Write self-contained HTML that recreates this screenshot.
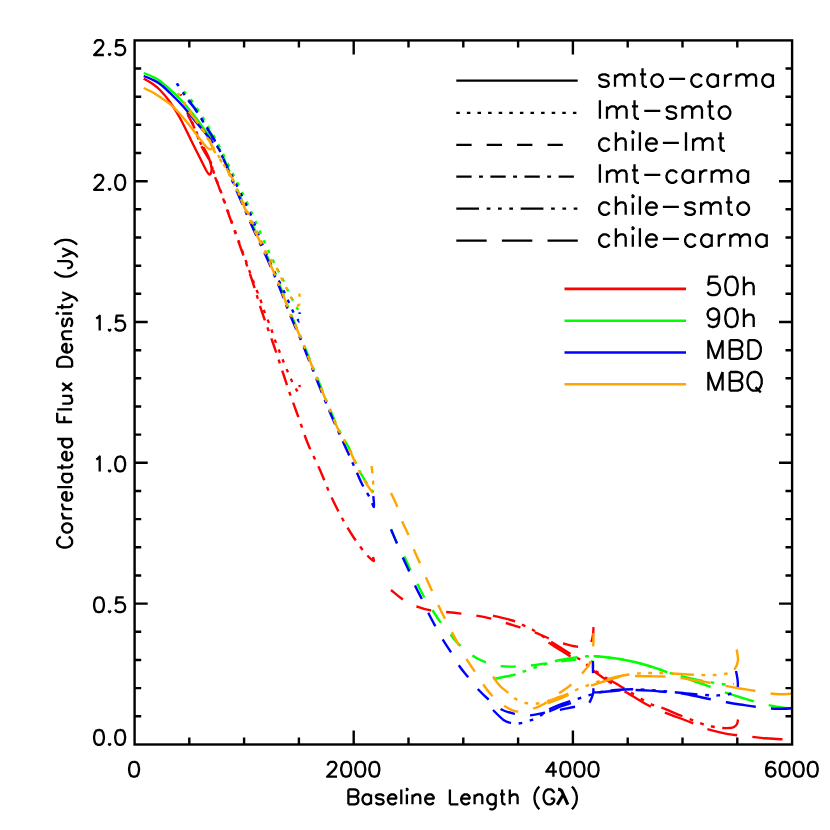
<!DOCTYPE html>
<html lang="en"><head><meta charset="utf-8"><title>Correlated Flux Density vs Baseline Length</title>
<style>html,body{margin:0;padding:0;background:#fff}body{width:830px;height:830px;overflow:hidden;font-family:"Liberation Sans",sans-serif}svg{display:block}text{font-family:"Liberation Sans",sans-serif}.sr{fill:none;stroke:none}</style>
</head><body>
<svg width="830" height="830" viewBox="0 0 830 830">
<rect width="830" height="830" fill="#fff"/>
<defs><clipPath id="pc"><rect x="134.6" y="40.4" width="657.5" height="704.1"/></clipPath></defs>
<g fill="none" stroke-width="2.4" stroke-linecap="butt" stroke-linejoin="round" clip-path="url(#pc)">
<path d="M143.7 78.6 C145.1 79.4 149.3 81.6 152.0 83.5 C154.7 85.4 157.0 86.9 160.0 90.0 C163.0 93.1 166.7 97.3 170.0 102.0 C173.3 106.7 176.7 112.0 180.0 118.0 C183.3 124.0 186.7 131.3 190.0 138.0 C193.3 144.7 197.3 152.7 200.0 158.0 C202.7 163.3 204.4 167.2 206.0 170.0 C207.6 172.8 208.6 174.4 209.5 174.6 C210.4 174.8 211.2 172.6 211.5 171.0 C211.8 169.4 211.5 167.3 211.0 165.0 C210.5 162.7 209.5 159.5 208.5 157.0 C207.5 154.5 205.9 151.7 205.0 150.0 C204.1 148.3 203.3 147.5 203.0 147.0" stroke="#ff0000"/>
<path d="M180.6 94.3 C181.2 95.8 183.2 100.0 184.5 103.5 C185.8 107.0 186.6 111.1 188.3 115.0 C190.0 118.9 192.2 121.8 194.5 127.0 C196.8 132.2 199.1 140.0 201.8 145.9 C204.5 151.8 208.7 157.6 210.8 162.3 C212.9 167.0 212.7 169.4 214.3 174.0 C215.9 178.6 217.6 182.7 220.3 190.0 C223.0 197.3 226.9 208.7 230.3 218.0 C233.7 227.3 237.1 236.7 240.5 246.0 C243.9 255.3 247.8 266.5 250.5 274.0 C253.2 281.5 255.2 286.4 257.0 291.0 C258.8 295.6 259.8 297.9 261.0 301.3 C262.2 304.7 263.1 308.1 264.3 311.4 C265.5 314.7 266.9 317.8 268.2 321.1 C269.5 324.4 270.8 327.8 272.0 331.2 C273.2 334.6 274.2 338.0 275.4 341.3 C276.6 344.6 278.0 347.9 279.3 351.1 C280.6 354.3 281.8 357.4 283.1 360.7 C284.4 364.0 285.9 367.4 287.3 370.7 C288.7 374.0 290.0 377.1 291.5 380.3 C293.0 383.5 295.2 387.6 296.4 389.6 C297.6 391.6 298.0 392.2 298.6 392.3 C299.2 392.4 299.7 391.2 299.8 390.0 C299.9 388.8 299.6 385.7 299.5 384.8" stroke="#ff0000" stroke-dasharray="3.5 7.1" stroke-dashoffset="1.9"/>
<path d="M187.8 115.0 C188.8 117.0 191.8 121.8 194.0 127.0 C196.2 132.2 198.6 140.0 201.3 145.9 C204.1 151.8 208.4 157.6 210.5 162.3 C212.6 167.0 212.4 169.4 214.0 174.0 C215.6 178.6 217.3 182.7 220.0 190.0 C222.7 197.3 226.7 208.7 230.0 218.0 C233.3 227.3 236.3 235.7 240.0 246.0 C243.7 256.3 248.3 269.0 252.0 280.0 C255.7 291.0 258.3 301.0 262.0 312.0 C265.7 323.0 270.3 335.3 274.0 346.0 C277.7 356.7 281.3 368.0 284.0 376.0 C286.7 384.0 287.7 387.3 290.0 394.0 C292.3 400.7 295.0 407.7 298.0 416.0 C301.0 424.3 304.3 435.0 308.0 444.0 C311.7 453.0 316.3 461.7 320.0 470.0 C323.7 478.3 326.3 486.0 330.0 494.0 C333.7 502.0 338.0 510.7 342.0 518.0 C346.0 525.3 350.0 532.0 354.0 538.0 C358.0 544.0 362.8 550.2 366.0 554.0 C369.2 557.8 372.3 560.5 373.5 561.0 C374.7 561.5 373.1 557.7 373.0 557.0" stroke="#ff0000" stroke-dasharray="15.3 7.4 3.9 7.5"/>
<path d="M391.0 590.0 C393.0 591.6 398.8 596.9 403.0 599.6 C407.2 602.3 411.7 604.6 416.4 606.4 C421.1 608.2 426.0 609.5 431.0 610.4 C436.0 611.3 441.4 611.5 446.4 612.0 C451.4 612.5 456.1 613.0 461.0 613.6 C465.9 614.2 471.0 614.8 476.0 615.6 C481.0 616.4 486.0 617.4 491.0 618.6 C496.0 619.8 501.2 621.5 506.0 623.0 C510.8 624.5 515.3 625.9 520.0 627.4 C524.7 628.9 529.3 630.2 534.0 632.0 C538.7 633.8 543.3 636.2 548.0 638.0 C552.7 639.8 557.2 641.6 562.0 643.0 C566.8 644.4 572.8 646.1 577.0 646.6 C581.2 647.1 584.7 646.7 587.0 646.0 C589.3 645.3 590.0 644.1 591.0 642.3 C592.0 640.5 592.6 637.5 593.0 635.0 C593.4 632.5 593.4 628.5 593.5 627.2" stroke="#ff0000" stroke-dasharray="15.3 15.1"/>
<path d="M493.0 615.6 C496.5 616.5 508.8 619.3 514.0 621.0 C519.2 622.7 520.8 624.1 524.0 625.6 C527.2 627.1 528.7 627.4 533.0 630.0 C537.3 632.6 543.5 636.8 550.0 641.0 C556.5 645.2 567.0 651.9 572.0 655.0 C577.0 658.1 576.3 657.0 580.0 659.5 C583.7 662.0 589.3 666.8 594.0 670.0 C598.7 673.2 604.3 676.8 608.0 679.0 C611.7 681.2 612.3 681.3 616.0 683.5 C619.7 685.7 624.4 688.7 630.0 692.0 C635.6 695.3 644.2 700.9 649.5 703.5 C654.8 706.1 656.3 705.6 661.7 707.7 C667.1 709.8 675.6 713.5 682.0 716.0 C688.4 718.5 695.0 721.2 700.0 723.0 C705.0 724.8 708.3 725.7 712.0 726.5 C715.7 727.3 719.4 727.8 722.4 728.0 C725.4 728.2 728.1 728.2 730.0 728.0 C731.9 727.8 732.8 727.7 734.0 727.0 C735.2 726.3 736.3 725.2 737.0 724.0 C737.7 722.8 737.8 720.2 738.0 719.5" stroke="#ff0000" stroke-dasharray="22.7 7.7 3.7 7.6 3.7 7.6 3.7 7.7"/>
<path d="M548.5 642.6 C550.2 643.7 555.3 647.0 559.0 649.3 C562.7 651.6 568.6 655.2 570.5 656.4" stroke="#ff0000"/>
<path d="M593.5 671.0 C595.9 672.7 603.6 678.1 608.0 681.0 C612.4 683.9 615.5 685.8 620.0 688.5 C624.5 691.2 630.1 694.6 635.0 697.5 C639.9 700.4 644.8 703.6 649.5 706.0 C654.2 708.4 658.6 710.1 663.4 712.0 C668.1 713.9 673.2 715.7 678.0 717.5 C682.8 719.3 687.3 721.0 692.0 722.9 C696.7 724.8 701.7 727.2 706.4 728.8 C711.1 730.4 715.2 731.3 720.0 732.3 C724.8 733.3 729.8 734.3 735.0 735.0 C740.2 735.7 746.0 736.2 751.0 736.7 C756.0 737.2 760.1 737.8 765.0 738.2 C769.9 738.6 775.6 739.0 780.6 739.2 C785.6 739.4 792.6 739.5 795.0 739.5" stroke="#ff0000" stroke-dasharray="30.4 15.2" stroke-dashoffset="8.4"/>
<path d="M143.7 73.0 C145.1 73.6 149.3 75.2 152.0 76.5 C154.7 77.8 157.0 78.8 160.0 81.0 C163.0 83.2 166.7 86.5 170.0 89.5 C173.3 92.5 177.0 95.9 180.0 99.0 C183.0 102.1 185.3 104.8 188.0 108.0 C190.7 111.2 193.3 114.5 196.0 118.0 C198.7 121.5 201.7 125.8 204.0 129.0 C206.3 132.2 208.7 135.2 210.0 137.0 C211.3 138.8 211.7 139.5 212.0 140.0" stroke="#00ff00"/>
<path d="M177.5 84.0 C178.7 85.3 182.1 89.2 184.5 92.0 C186.9 94.8 189.4 97.5 192.0 101.0 C194.6 104.5 197.3 108.8 200.0 113.0 C202.7 117.2 205.3 121.5 208.0 126.0 C210.7 130.5 213.3 135.0 216.0 140.0 C218.7 145.0 221.2 150.3 224.0 156.0 C226.8 161.7 230.0 168.0 233.0 174.0 C236.0 180.0 238.9 185.6 242.0 192.0 C245.1 198.4 248.6 205.8 251.6 212.4 C254.6 219.0 257.3 225.3 260.0 231.6 C262.7 237.9 265.2 243.8 268.0 250.0 C270.8 256.1 274.5 263.5 277.0 268.5 C279.5 273.5 281.4 276.6 283.1 280.1 C284.9 283.7 286.0 286.6 287.5 289.8 C289.0 293.0 290.7 296.3 292.3 299.4 C293.9 302.4 296.0 306.3 297.1 308.1 C298.2 309.9 298.3 310.2 298.7 310.3 C299.1 310.4 299.6 310.1 299.7 309.0 C299.8 307.9 299.5 304.6 299.5 303.7" stroke="#00ff00" stroke-dasharray="3.5 7.1" stroke-dashoffset="1.0"/>
<path d="M188.3 99.6 C189.8 101.4 193.9 106.2 197.0 110.7 C200.1 115.2 203.8 122.0 206.6 126.6 C209.4 131.2 211.2 133.4 213.9 138.2 C216.6 143.0 219.7 149.4 222.5 155.5 C225.3 161.6 228.1 168.2 231.0 175.0 C233.9 181.8 236.2 187.2 240.0 196.0 C243.8 204.8 249.3 217.7 254.0 228.0 C258.7 238.3 263.7 248.3 268.0 258.0 C272.3 267.7 276.3 277.0 280.0 286.0 C283.7 295.0 286.3 303.0 290.0 312.0 C293.7 321.0 298.0 330.3 302.0 340.0 C306.0 349.7 309.8 359.7 314.0 370.0 C318.2 380.3 323.0 392.3 327.0 402.0 C331.0 411.7 334.2 420.0 338.0 428.0 C341.8 436.0 346.3 442.7 350.0 450.0 C353.7 457.3 356.7 465.7 360.0 472.0 C363.3 478.3 367.8 484.8 370.0 488.0 C372.2 491.2 372.6 492.2 373.0 491.5 C373.4 490.8 372.4 485.2 372.3 484.0" stroke="#00ff00" stroke-dasharray="15.3 7.4 3.9 7.5"/>
<path d="M391.0 529.0 C392.0 531.3 394.8 538.5 397.0 543.0 C399.2 547.5 401.8 551.7 404.0 556.0 C406.2 560.3 407.8 564.5 410.0 569.0 C412.2 573.5 414.7 578.5 417.0 583.0 C419.3 587.5 421.1 591.6 423.6 596.0 C426.1 600.4 429.3 605.1 432.0 609.4 C434.7 613.7 437.0 617.5 440.0 621.6 C443.0 625.7 446.8 630.2 450.0 634.0 C453.2 637.8 455.4 640.9 459.0 644.4 C462.6 647.9 467.4 652.1 471.6 655.0 C475.8 657.9 479.3 659.8 484.0 661.6 C488.7 663.4 494.7 665.2 499.6 666.0 C504.5 666.8 508.5 666.7 513.6 666.6 C518.7 666.5 524.9 666.1 530.0 665.6 C535.1 665.1 539.0 664.3 544.0 663.6 C549.0 662.9 555.0 662.1 560.0 661.5 C565.0 660.9 569.7 660.3 574.0 659.8 C578.3 659.3 582.9 658.1 586.0 658.5 C589.1 658.9 591.4 660.4 592.5 662.0 C593.6 663.6 592.8 667.0 592.9 668.0" stroke="#00ff00" stroke-dasharray="15.3 15.1"/>
<path d="M493.3 679.0 C496.9 678.3 509.9 676.0 515.0 674.7 C520.1 673.4 520.7 672.6 524.0 671.4 C527.3 670.2 531.3 668.7 534.8 667.5 C538.3 666.3 540.8 665.5 545.0 664.2 C549.2 663.0 554.5 661.2 560.0 660.0 C565.5 658.8 573.5 657.6 578.0 657.0 C582.5 656.4 584.3 656.4 587.0 656.2 C589.7 656.1 590.8 655.9 594.0 656.1 C597.2 656.3 602.0 656.8 606.0 657.3 C610.0 657.8 614.0 658.2 618.0 658.8 C622.0 659.4 626.0 660.1 630.0 661.0 C634.0 661.9 638.2 662.9 642.3 664.0 C646.3 665.1 650.3 666.3 654.3 667.6 C658.3 668.9 661.8 670.3 666.4 671.8 C671.0 673.3 676.4 675.0 682.0 676.5 C687.6 678.0 694.5 679.4 700.0 680.5 C705.5 681.6 710.5 682.3 715.0 683.0 C719.5 683.7 723.8 684.3 727.0 684.5 C730.2 684.7 732.8 684.1 734.0 684.0" stroke="#00ff00" stroke-dasharray="22.7 7.7 3.7 7.6 3.7 7.6 3.7 7.7"/>
<path d="M593.5 656.1 C595.6 656.3 601.9 656.8 606.0 657.3 C610.1 657.8 614.0 658.2 618.0 658.8 C622.0 659.4 626.0 660.1 630.0 661.0 C634.0 661.9 638.2 662.9 642.3 664.0 C646.3 665.1 650.3 666.3 654.3 667.6 C658.3 668.9 661.8 670.2 666.4 671.8 C671.0 673.4 677.2 675.4 682.0 677.0 C686.8 678.6 690.4 679.9 695.0 681.5 C699.6 683.1 704.9 684.9 709.7 686.6 C714.5 688.4 719.3 690.4 724.0 692.0 C728.7 693.6 733.2 695.0 738.0 696.5 C742.8 698.0 747.7 699.6 752.7 701.0 C757.7 702.4 763.5 704.0 768.0 705.0 C772.5 706.0 776.1 706.7 780.0 707.3 C783.9 707.9 788.8 708.3 791.5 708.5 C794.2 708.7 795.2 708.7 796.0 708.7" stroke="#00ff00" stroke-dasharray="30.4 15.2"/>
<path d="M143.7 76.0 C145.1 76.6 149.3 78.2 152.0 79.5 C154.7 80.8 157.0 81.8 160.0 84.0 C163.0 86.2 166.7 89.8 170.0 93.0 C173.3 96.2 177.0 99.8 180.0 103.0 C183.0 106.2 185.3 108.8 188.0 112.0 C190.7 115.2 193.3 118.8 196.0 122.0 C198.7 125.2 201.7 128.7 204.0 131.5 C206.3 134.3 208.5 137.1 210.0 139.0 C211.5 140.9 212.5 142.3 213.0 143.0" stroke="#0000ff"/>
<path d="M176.9 83.4 C177.0 83.6 176.4 82.8 177.5 84.5 C178.6 86.2 181.2 90.4 183.5 93.5 C185.8 96.6 188.4 99.4 191.0 103.0 C193.6 106.6 196.3 110.8 199.0 115.0 C201.7 119.2 204.3 123.5 207.0 128.0 C209.7 132.5 212.3 137.0 215.0 142.0 C217.7 147.0 220.2 152.3 223.0 158.0 C225.8 163.7 229.0 170.0 232.0 176.0 C235.0 182.0 237.9 187.6 241.0 194.0 C244.1 200.4 247.7 207.6 250.6 214.4 C253.5 221.2 255.9 228.2 258.5 234.6 C261.1 241.0 263.3 246.8 266.0 253.0 C268.7 259.2 272.2 267.2 274.5 272.0 C276.8 276.8 277.9 278.7 279.5 282.0 C281.1 285.3 282.6 288.5 284.1 291.7 C285.6 294.9 286.9 298.1 288.4 301.3 C289.8 304.5 291.2 307.9 292.8 311.0 C294.4 314.1 297.0 318.4 298.1 320.1 C299.2 321.8 298.9 321.5 299.2 321.3 C299.5 321.1 299.8 320.5 299.8 319.0 C299.9 317.5 299.6 313.5 299.5 312.4" stroke="#0000ff" stroke-dasharray="3.5 7.1" stroke-dashoffset="10.4"/>
<path d="M188.3 100.6 C189.8 102.4 193.9 107.2 197.0 111.7 C200.1 116.2 203.8 123.0 206.6 127.6 C209.4 132.2 211.2 134.4 213.9 139.2 C216.6 144.0 219.7 150.3 222.5 156.5 C225.3 162.7 227.7 169.7 230.5 176.5 C233.3 183.3 235.7 188.7 239.5 197.5 C243.3 206.3 248.8 219.2 253.5 229.5 C258.2 239.8 263.2 249.8 267.5 259.5 C271.8 269.2 275.8 278.5 279.5 287.5 C283.2 296.5 285.8 304.5 289.5 313.5 C293.2 322.5 297.5 331.8 301.5 341.5 C305.5 351.2 309.4 361.2 313.5 371.5 C317.6 381.8 322.4 394.2 326.0 403.0 C329.6 411.8 332.0 417.2 335.0 424.0 C338.0 430.8 340.8 437.0 344.0 444.0 C347.2 451.0 351.0 459.3 354.0 466.0 C357.0 472.7 359.3 478.7 362.0 484.0 C364.7 489.3 368.0 494.2 370.0 498.0 C372.0 501.8 373.4 507.3 374.0 507.0 C374.6 506.7 373.4 497.8 373.3 496.0" stroke="#0000ff" stroke-dasharray="15.3 7.4 3.9 7.5"/>
<path d="M391.0 529.5 C392.0 531.8 395.0 538.8 397.0 543.5 C399.0 548.2 401.0 553.4 403.0 558.0 C405.0 562.6 407.0 566.4 409.0 571.0 C411.0 575.6 412.9 581.0 415.0 585.6 C417.1 590.2 419.4 594.0 421.6 598.6 C423.8 603.2 426.2 608.5 428.4 613.0 C430.6 617.5 432.6 621.2 435.0 625.6 C437.4 630.0 440.0 635.1 442.6 639.4 C445.2 643.7 447.9 647.3 450.6 651.6 C453.3 655.9 455.8 660.8 458.6 665.0 C461.4 669.2 464.5 672.7 467.6 676.6 C470.7 680.5 474.0 684.9 477.4 688.6 C480.8 692.3 484.2 695.6 488.0 699.0 C491.8 702.4 495.7 706.3 500.0 708.7 C504.3 711.1 508.8 712.5 513.7 713.6 C518.6 714.7 524.5 715.5 529.4 715.4 C534.3 715.3 538.4 713.9 543.3 713.0 C548.2 712.1 553.9 711.0 559.0 710.0 C564.1 709.0 569.9 707.8 573.7 707.0 C577.5 706.2 579.5 705.9 582.0 705.3 C584.5 704.6 587.1 704.3 588.7 703.1 C590.3 701.9 590.8 699.8 591.6 698.0 C592.4 696.2 593.0 694.6 593.3 692.3 C593.6 690.0 593.2 686.8 593.2 684.0 C593.2 681.2 593.2 679.2 593.1 675.4 C593.0 671.6 592.9 663.4 592.9 661.0" stroke="#0000ff" stroke-dasharray="15.3 15.1"/>
<path d="M493.0 710.0 C494.8 711.7 500.6 717.9 503.5 720.0 C506.4 722.1 508.0 722.4 510.7 722.9 C513.4 723.4 516.4 723.8 519.8 723.3 C523.2 722.8 527.6 721.5 531.2 720.1 C534.8 718.7 538.5 716.8 541.4 715.0 C544.3 713.2 545.6 711.4 548.7 709.6 C551.8 707.9 556.4 705.9 560.0 704.5 C563.6 703.1 566.7 702.4 570.4 701.2 C574.1 700.0 578.2 698.7 582.0 697.5 C585.8 696.3 589.3 695.0 593.0 694.0 C596.7 693.0 600.2 692.2 604.0 691.5 C607.8 690.8 611.3 690.4 616.0 690.0 C620.7 689.6 626.3 689.3 632.0 689.3 C637.7 689.3 643.7 689.6 650.0 690.0 C656.3 690.4 663.3 691.2 670.0 691.8 C676.7 692.4 684.0 693.3 690.0 693.8 C696.0 694.3 701.3 694.7 706.0 695.0 C710.7 695.3 714.2 695.5 718.0 695.4 C721.8 695.3 726.2 694.9 729.0 694.2 C731.8 693.6 733.1 692.6 734.5 691.5 C735.9 690.4 737.1 689.4 737.6 687.5 C738.1 685.6 737.9 682.8 737.6 680.0 C737.3 677.2 736.3 672.5 736.0 671.0" stroke="#0000ff" stroke-dasharray="22.7 7.7 3.7 7.6 3.7 7.6 3.7 7.7"/>
<path d="M549.3 711.6 C551.1 710.8 556.4 708.0 560.0 706.6 C563.6 705.2 569.2 703.8 571.0 703.2" stroke="#0000ff"/>
<path d="M593.5 692.4 C594.6 692.4 595.9 692.5 600.0 692.2 C604.1 691.9 612.3 690.9 618.0 690.5 C623.7 690.1 628.7 690.0 634.0 690.0 C639.3 690.0 644.7 690.3 650.0 690.6 C655.3 690.9 661.8 691.7 666.0 692.0 C670.2 692.3 671.5 691.9 675.5 692.4 C679.5 692.9 685.9 694.2 690.0 695.0 C694.1 695.8 696.6 696.3 700.0 697.0 C703.4 697.7 706.2 698.4 710.6 699.3 C715.0 700.2 721.7 701.4 726.6 702.3 C731.5 703.2 735.2 703.8 740.0 704.5 C744.8 705.2 750.1 706.1 755.3 706.8 C760.5 707.5 766.8 708.2 771.3 708.5 C775.8 708.8 778.6 708.8 782.0 708.7 C785.4 708.7 789.2 708.4 791.5 708.2 C793.8 708.1 795.2 707.9 796.0 707.8" stroke="#0000ff" stroke-dasharray="30.4 15.2" stroke-dashoffset="3.4"/>
<path d="M143.7 88.0 C145.1 88.7 149.3 90.5 152.0 92.0 C154.7 93.5 157.0 95.0 160.0 97.0 C163.0 99.0 166.7 101.2 170.0 104.0 C173.3 106.8 176.7 110.3 180.0 114.0 C183.3 117.7 186.7 121.8 190.0 126.0 C193.3 130.2 197.3 135.6 200.0 139.0 C202.7 142.4 204.4 144.8 206.0 146.5 C207.6 148.2 208.5 149.1 209.5 149.3 C210.5 149.5 211.9 148.6 212.2 147.6 C212.4 146.6 211.5 144.9 211.0 143.5 C210.5 142.1 209.3 139.8 209.0 139.0" stroke="#ffa500"/>
<path d="M178.0 93.0 C179.1 94.8 182.2 100.0 184.5 103.5 C186.8 107.0 189.4 110.2 192.0 114.0 C194.6 117.8 197.3 121.8 200.0 126.0 C202.7 130.2 205.3 134.7 208.0 139.0 C210.7 143.3 213.3 147.7 216.0 152.0 C218.7 156.3 221.3 160.3 224.0 165.0 C226.7 169.7 229.2 174.5 232.0 180.0 C234.8 185.5 238.0 191.8 241.0 198.0 C244.0 204.2 247.0 210.7 250.0 217.0 C253.0 223.3 256.2 229.8 259.0 236.0 C261.8 242.2 264.1 248.7 267.0 254.0 C269.9 259.3 274.1 263.9 276.5 268.0 C278.9 272.1 280.0 275.3 281.7 278.7 C283.4 282.1 284.9 285.1 286.5 288.3 C288.1 291.5 289.9 295.5 291.3 298.0 C292.8 300.5 294.0 302.3 295.2 303.5 C296.4 304.7 297.8 305.8 298.6 305.4 C299.4 305.0 299.7 302.7 299.8 301.0 C299.9 299.3 299.6 296.4 299.5 295.1 C299.4 293.8 299.4 293.6 299.4 293.3" stroke="#ffa500" stroke-dasharray="3.5 7.1" stroke-dashoffset="0.2"/>
<path d="M188.8 111.7 C190.2 113.4 193.9 117.5 197.0 121.8 C200.1 126.0 204.7 132.3 207.6 137.2 C210.5 142.1 211.8 146.9 214.3 151.2 C216.8 155.5 219.7 158.9 222.5 163.0 C225.3 167.1 228.1 170.3 231.0 176.0 C233.9 181.7 236.2 188.2 240.0 197.0 C243.8 205.8 249.3 218.7 254.0 229.0 C258.7 239.3 263.7 249.3 268.0 259.0 C272.3 268.7 276.3 278.0 280.0 287.0 C283.7 296.0 286.3 304.0 290.0 313.0 C293.7 322.0 298.0 331.3 302.0 341.0 C306.0 350.7 309.8 360.7 314.0 371.0 C318.2 381.3 323.0 393.3 327.0 403.0 C331.0 412.7 334.2 421.0 338.0 429.0 C341.8 437.0 346.3 443.7 350.0 451.0 C353.7 458.3 356.7 466.7 360.0 473.0 C363.3 479.3 367.8 485.9 370.0 489.0 C372.2 492.1 372.5 493.0 373.0 491.5 C373.5 490.0 373.2 484.2 373.0 480.0 C372.8 475.8 371.8 468.3 371.6 466.0" stroke="#ffa500" stroke-dasharray="15.3 7.4 3.9 7.5"/>
<path d="M391.0 493.0 C392.0 495.2 395.2 501.3 397.0 506.0 C398.8 510.7 400.2 516.3 402.0 521.0 C403.8 525.7 406.1 529.3 408.0 534.0 C409.9 538.7 411.7 544.3 413.6 549.0 C415.5 553.7 417.6 557.8 419.6 562.4 C421.6 567.0 423.6 572.0 425.6 576.6 C427.6 581.2 429.5 585.4 431.6 590.0 C433.7 594.6 435.9 599.8 438.0 604.4 C440.1 609.0 442.1 613.1 444.4 617.6 C446.7 622.1 449.3 627.1 451.6 631.6 C453.9 636.1 456.0 640.0 458.4 644.4 C460.8 648.8 463.4 653.7 466.0 658.0 C468.6 662.3 471.2 666.2 474.0 670.4 C476.8 674.6 479.7 679.3 482.6 683.4 C485.5 687.5 488.0 691.4 491.4 695.0 C494.8 698.6 498.9 702.3 503.0 705.0 C507.1 707.7 511.2 710.7 516.0 711.4 C520.8 712.1 527.3 710.2 532.0 709.0 C536.7 707.8 539.7 706.5 544.0 704.0 C548.3 701.5 553.7 697.1 558.0 694.0 C562.3 690.9 566.2 688.8 570.0 685.6 C573.8 682.4 577.7 678.6 581.0 674.8 C584.3 671.0 587.9 667.3 589.9 662.8 C591.9 658.3 592.4 653.0 593.0 648.0 C593.6 643.0 593.5 635.5 593.6 633.0" stroke="#ffa500" stroke-dasharray="15.3 15.1"/>
<path d="M493.0 676.5 C494.2 678.1 497.4 683.3 500.0 686.0 C502.6 688.7 505.7 690.7 508.3 692.8 C510.9 694.9 512.6 697.1 515.5 698.8 C518.4 700.5 522.2 702.2 525.8 703.0 C529.4 703.8 533.5 703.8 537.2 703.5 C540.9 703.2 544.5 702.0 548.0 701.0 C551.5 700.0 554.3 698.8 558.0 697.5 C561.7 696.2 566.8 694.3 570.0 693.0 C573.2 691.7 574.2 690.7 577.0 689.5 C579.8 688.3 583.2 687.1 587.0 685.7 C590.8 684.3 595.2 682.5 600.0 681.0 C604.8 679.5 611.2 678.1 616.0 677.0 C620.8 675.9 625.0 675.1 629.0 674.5 C633.0 673.9 636.5 673.5 640.0 673.3 C643.5 673.0 646.3 673.0 650.0 673.0 C653.7 673.0 657.0 672.8 662.0 673.0 C667.0 673.2 673.7 673.7 680.0 674.0 C686.3 674.3 694.2 674.8 700.0 675.0 C705.8 675.2 710.5 675.2 715.0 675.0 C719.5 674.8 723.8 674.4 727.0 673.5 C730.2 672.6 732.4 671.9 734.2 669.7 C736.0 667.5 737.6 663.9 738.0 660.5 C738.4 657.1 736.9 651.3 736.7 649.5" stroke="#ffa500" stroke-dasharray="22.7 7.7 3.7 7.6 3.7 7.6 3.7 7.7"/>
<path d="M547.5 703.4 C549.2 702.7 554.5 700.8 558.0 699.4 C561.5 698.0 566.8 695.6 568.5 694.8" stroke="#ffa500"/>
<path d="M591.0 685.7 C593.3 684.9 600.7 682.4 605.0 681.0 C609.3 679.6 613.0 678.4 617.0 677.5 C621.0 676.6 626.0 675.6 629.0 675.4 C632.0 675.1 631.5 675.9 635.0 676.0 C638.5 676.1 645.0 676.2 650.0 676.3 C655.0 676.4 660.2 676.2 665.2 676.5 C670.2 676.8 675.0 677.4 680.0 678.0 C685.0 678.6 690.0 679.4 695.0 680.2 C700.0 681.0 704.7 681.8 709.7 682.7 C714.7 683.6 720.0 684.8 725.0 685.8 C730.0 686.8 735.1 687.7 740.0 688.5 C744.9 689.3 749.5 690.0 754.4 690.8 C759.3 691.6 765.3 692.8 769.6 693.4 C773.9 694.0 776.4 694.2 780.0 694.3 C783.6 694.3 788.8 693.9 791.5 693.7 C794.2 693.5 795.2 693.3 796.0 693.2" stroke="#ffa500" stroke-dasharray="30.4 15.2"/>
</g>
<g stroke="#000" stroke-width="2.4" fill="none" stroke-linecap="butt">
<rect x="134.6" y="40.4" width="657.5" height="704.1"/>
<path d="M189.3 744.5V737.4M189.3 40.4V47.4M244.1 744.5V737.4M244.1 40.4V47.4M298.9 744.5V737.4M298.9 40.4V47.4M353.7 744.5V730.4M353.7 40.4V54.5M408.5 744.5V737.4M408.5 40.4V47.4M463.3 744.5V737.4M463.3 40.4V47.4M518.1 744.5V737.4M518.1 40.4V47.4M572.9 744.5V730.4M572.9 40.4V54.5M627.7 744.5V737.4M627.7 40.4V47.4M682.5 744.5V737.4M682.5 40.4V47.4M737.3 744.5V737.4M737.3 40.4V47.4M134.6 716.3H141.2M792.1 716.3H785.5M134.6 688.1H141.2M792.1 688.1H785.5M134.6 660.0H141.2M792.1 660.0H785.5M134.6 631.8H141.2M792.1 631.8H785.5M134.6 603.6H147.7M792.1 603.6H779.0M134.6 575.5H141.2M792.1 575.5H785.5M134.6 547.3H141.2M792.1 547.3H785.5M134.6 519.1H141.2M792.1 519.1H785.5M134.6 491.0H141.2M792.1 491.0H785.5M134.6 462.8H147.7M792.1 462.8H779.0M134.6 434.6H141.2M792.1 434.6H785.5M134.6 406.5H141.2M792.1 406.5H785.5M134.6 378.3H141.2M792.1 378.3H785.5M134.6 350.2H141.2M792.1 350.2H785.5M134.6 322.0H147.7M792.1 322.0H779.0M134.6 293.8H141.2M792.1 293.8H785.5M134.6 265.7H141.2M792.1 265.7H785.5M134.6 237.5H141.2M792.1 237.5H785.5M134.6 209.3H141.2M792.1 209.3H785.5M134.6 181.2H147.7M792.1 181.2H779.0M134.6 153.0H141.2M792.1 153.0H785.5M134.6 124.8H141.2M792.1 124.8H785.5M134.6 96.7H141.2M792.1 96.7H785.5M134.6 68.5H141.2M792.1 68.5H785.5"/>
</g>
<g stroke="#000" stroke-width="2.3" fill="none">
<path d="M456.3 80.7H577.7"/>
<path d="M456.3 112.8H577.7" stroke-dasharray="3.5 7.1"/>
<path d="M456.3 144.8H562.8" stroke-dasharray="15.3 15.1"/>
<path d="M456.3 176.7H574.4" stroke-dasharray="15.3 7.4 3.9 7.5"/>
<path d="M456.3 208.7H577.8" stroke-dasharray="22.7 7.7 3.7 7.6 3.7 7.6 3.7 7.7"/>
<path d="M456.3 240.7H577.8" stroke-dasharray="30.4 15.2"/>
</g>
<g stroke-width="2.6" fill="none">
<path d="M564.5 288.9H686" stroke="#ff0000"/>
<path d="M564.5 320.7H686" stroke="#00ff00"/>
<path d="M564.5 352.5H686" stroke="#0000ff"/>
<path d="M564.5 384.3H686" stroke="#ffa500"/>
</g>
<g fill="none" stroke="#000" stroke-width="2.3" stroke-linecap="butt" stroke-linejoin="round">
<g><text x="127.2" y="55.0" font-size="21.2" text-anchor="end" class="sr">2.5</text><path d="M94.8 43.7L94.8 43.0L95.5 41.5L96.2 40.8L97.6 40.1L100.4 40.1L101.8 40.8L102.5 41.5L103.2 43.0L103.2 44.4L102.5 45.8L101.1 47.9L94.1 55.0L103.9 55.0M109.6 53.6L108.9 54.3L109.6 55.0L110.3 54.3L109.6 53.6M123.7 40.1L116.6 40.1L115.9 46.5L116.6 45.8L118.7 45.1L120.9 45.1L123.0 45.8L124.4 47.2L125.1 49.3L125.1 50.8L124.4 52.9L123.0 54.3L120.9 55.0L118.7 55.0L116.6 54.3L115.9 53.6L115.2 52.2"/></g>
<g><text x="127.2" y="189.8" font-size="21.2" text-anchor="end" class="sr">2.0</text><path d="M94.8 178.4L94.8 177.7L95.5 176.3L96.2 175.6L97.6 174.9L100.4 174.9L101.8 175.6L102.5 176.3L103.2 177.7L103.2 179.2L102.5 180.6L101.1 182.7L94.1 189.8L103.9 189.8M109.6 188.4L108.9 189.1L109.6 189.8L110.3 189.1L109.6 188.4M119.4 174.9L117.3 175.6L115.9 177.7L115.2 181.3L115.2 183.4L115.9 186.9L117.3 189.1L119.4 189.8L120.9 189.8L123.0 189.1L124.4 186.9L125.1 183.4L125.1 181.3L124.4 177.7L123.0 175.6L120.9 174.9L119.4 174.9"/></g>
<g><text x="127.2" y="330.6" font-size="21.2" text-anchor="end" class="sr">1.5</text><path d="M96.2 318.6L97.6 317.8L99.7 315.7L99.7 330.6M109.6 329.2L108.9 329.9L109.6 330.6L110.3 329.9L109.6 329.2M123.7 315.7L116.6 315.7L115.9 322.1L116.6 321.4L118.7 320.7L120.9 320.7L123.0 321.4L124.4 322.8L125.1 324.9L125.1 326.3L124.4 328.5L123.0 329.9L120.9 330.6L118.7 330.6L116.6 329.9L115.9 329.2L115.2 327.8"/></g>
<g><text x="127.2" y="471.4" font-size="21.2" text-anchor="end" class="sr">1.0</text><path d="M96.2 459.4L97.6 458.7L99.7 456.5L99.7 471.4M109.6 470.0L108.9 470.7L109.6 471.4L110.3 470.7L109.6 470.0M119.4 456.5L117.3 457.3L115.9 459.4L115.2 462.9L115.2 465.0L115.9 468.6L117.3 470.7L119.4 471.4L120.9 471.4L123.0 470.7L124.4 468.6L125.1 465.0L125.1 462.9L124.4 459.4L123.0 457.3L120.9 456.5L119.4 456.5"/></g>
<g><text x="127.2" y="612.2" font-size="21.2" text-anchor="end" class="sr">0.5</text><path d="M98.3 597.4L96.2 598.1L94.8 600.2L94.1 603.7L94.1 605.9L94.8 609.4L96.2 611.5L98.3 612.2L99.7 612.2L101.8 611.5L103.2 609.4L103.9 605.9L103.9 603.7L103.2 600.2L101.8 598.1L99.7 597.4L98.3 597.4M109.6 610.8L108.9 611.5L109.6 612.2L110.3 611.5L109.6 610.8M123.7 597.4L116.6 597.4L115.9 603.7L116.6 603.0L118.7 602.3L120.9 602.3L123.0 603.0L124.4 604.4L125.1 606.6L125.1 608.0L124.4 610.1L123.0 611.5L120.9 612.2L118.7 612.2L116.6 611.5L115.9 610.8L115.2 609.4"/></g>
<g><text x="127.2" y="744.9" font-size="21.2" text-anchor="end" class="sr">0.0</text><path d="M98.3 730.0L96.2 730.7L94.8 732.9L94.1 736.4L94.1 738.5L94.8 742.1L96.2 744.2L98.3 744.9L99.7 744.9L101.8 744.2L103.2 742.1L103.9 738.5L103.9 736.4L103.2 732.9L101.8 730.7L99.7 730.0L98.3 730.0M109.6 743.5L108.9 744.2L109.6 744.9L110.3 744.2L109.6 743.5M119.4 730.0L117.3 730.7L115.9 732.9L115.2 736.4L115.2 738.5L115.9 742.1L117.3 744.2L119.4 744.9L120.9 744.9L123.0 744.2L124.4 742.1L125.1 738.5L125.1 736.4L124.4 732.9L123.0 730.7L120.9 730.0L119.4 730.0"/></g>
<g><text x="134.1" y="776.7" font-size="21.2" text-anchor="middle" class="sr">0</text><path d="M133.3 761.8L131.2 762.5L129.8 764.7L129.1 768.2L129.1 770.3L129.8 773.9L131.2 776.0L133.3 776.7L134.8 776.7L136.9 776.0L138.3 773.9L139.0 770.3L139.0 768.2L138.3 764.7L136.9 762.5L134.8 761.8L133.3 761.8"/></g>
<g><text x="353.2" y="776.7" font-size="21.2" text-anchor="middle" class="sr">2000</text><path d="M327.9 765.4L327.9 764.7L328.6 763.2L329.3 762.5L330.7 761.8L333.5 761.8L334.9 762.5L335.6 763.2L336.3 764.7L336.3 766.1L335.6 767.5L334.2 769.6L327.1 776.7L337.0 776.7M345.5 761.8L343.4 762.5L342.0 764.7L341.2 768.2L341.2 770.3L342.0 773.9L343.4 776.0L345.5 776.7L346.9 776.7L349.0 776.0L350.4 773.9L351.1 770.3L351.1 768.2L350.4 764.7L349.0 762.5L346.9 761.8L345.5 761.8M359.6 761.8L357.5 762.5L356.1 764.7L355.3 768.2L355.3 770.3L356.1 773.9L357.5 776.0L359.6 776.7L361.0 776.7L363.1 776.0L364.5 773.9L365.2 770.3L365.2 768.2L364.5 764.7L363.1 762.5L361.0 761.8L359.6 761.8M373.7 761.8L371.6 762.5L370.2 764.7L369.4 768.2L369.4 770.3L370.2 773.9L371.6 776.0L373.7 776.7L375.1 776.7L377.2 776.0L378.6 773.9L379.3 770.3L379.3 768.2L378.6 764.7L377.2 762.5L375.1 761.8L373.7 761.8"/></g>
<g><text x="572.4" y="776.7" font-size="21.2" text-anchor="middle" class="sr">4000</text><path d="M553.4 761.8L546.3 771.7L556.9 771.7M553.4 761.8L553.4 776.7M564.7 761.8L562.5 762.5L561.1 764.7L560.4 768.2L560.4 770.3L561.1 773.9L562.5 776.0L564.7 776.7L566.1 776.7L568.2 776.0L569.6 773.9L570.3 770.3L570.3 768.2L569.6 764.7L568.2 762.5L566.1 761.8L564.7 761.8M578.8 761.8L576.6 762.5L575.2 764.7L574.5 768.2L574.5 770.3L575.2 773.9L576.6 776.0L578.8 776.7L580.2 776.7L582.3 776.0L583.7 773.9L584.4 770.3L584.4 768.2L583.7 764.7L582.3 762.5L580.2 761.8L578.8 761.8M592.9 761.8L590.7 762.5L589.3 764.7L588.6 768.2L588.6 770.3L589.3 773.9L590.7 776.0L592.9 776.7L594.3 776.7L596.4 776.0L597.8 773.9L598.5 770.3L598.5 768.2L597.8 764.7L596.4 762.5L594.3 761.8L592.9 761.8"/></g>
<g><text x="791.6" y="776.7" font-size="21.2" text-anchor="middle" class="sr">6000</text><path d="M774.7 764.0L774.0 762.5L771.9 761.8L770.4 761.8L768.3 762.5L766.9 764.7L766.2 768.2L766.2 771.7L766.9 774.6L768.3 776.0L770.4 776.7L771.2 776.7L773.3 776.0L774.7 774.6L775.4 772.5L775.4 771.7L774.7 769.6L773.3 768.2L771.2 767.5L770.4 767.5L768.3 768.2L766.9 769.6L766.2 771.7M783.8 761.8L781.7 762.5L780.3 764.7L779.6 768.2L779.6 770.3L780.3 773.9L781.7 776.0L783.8 776.7L785.3 776.7L787.4 776.0L788.8 773.9L789.5 770.3L789.5 768.2L788.8 764.7L787.4 762.5L785.3 761.8L783.8 761.8M797.9 761.8L795.8 762.5L794.4 764.7L793.7 768.2L793.7 770.3L794.4 773.9L795.8 776.0L797.9 776.7L799.4 776.7L801.5 776.0L802.9 773.9L803.6 770.3L803.6 768.2L802.9 764.7L801.5 762.5L799.4 761.8L797.9 761.8M812.0 761.8L809.9 762.5L808.5 764.7L807.8 768.2L807.8 770.3L808.5 773.9L809.9 776.0L812.0 776.7L813.5 776.7L815.6 776.0L817.0 773.9L817.7 770.3L817.7 768.2L817.0 764.7L815.6 762.5L813.5 761.8L812.0 761.8"/></g>
<g><text x="462.6" y="804.3" font-size="21.2" text-anchor="middle" class="sr">Baseline Length (G&#955;)</text><path d="M348.4 789.4L348.4 804.3M348.4 789.4L354.7 789.4L356.9 790.1L357.6 790.8L358.3 792.3L358.3 793.7L357.6 795.1L356.9 795.8L354.7 796.5M348.4 796.5L354.7 796.5L356.9 797.2L357.6 797.9L358.3 799.3L358.3 801.5L357.6 802.9L356.9 803.6L354.7 804.3L348.4 804.3M371.0 794.4L371.0 804.3M371.0 796.5L369.5 795.1L368.1 794.4L366.0 794.4L364.6 795.1L363.2 796.5L362.5 798.6L362.5 800.1L363.2 802.2L364.6 803.6L366.0 804.3L368.1 804.3L369.5 803.6L371.0 802.2M383.6 796.5L382.9 795.1L380.8 794.4L378.7 794.4L376.6 795.1L375.9 796.5L376.6 797.9L378.0 798.6L381.5 799.3L382.9 800.1L383.6 801.5L383.6 802.2L382.9 803.6L380.8 804.3L378.7 804.3L376.6 803.6L375.9 802.2M387.9 798.6L396.3 798.6L396.3 797.2L395.6 795.8L394.9 795.1L393.5 794.4L391.4 794.4L390.0 795.1L388.6 796.5L387.9 798.6L387.9 800.1L388.6 802.2L390.0 803.6L391.4 804.3L393.5 804.3L394.9 803.6L396.3 802.2M401.3 789.4L401.3 804.3M406.2 789.4L406.9 790.1L407.6 789.4L406.9 788.7L406.2 789.4M406.9 794.4L406.9 804.3M412.5 794.4L412.5 804.3M412.5 797.2L414.7 795.1L416.1 794.4L418.2 794.4L419.6 795.1L420.3 797.2L420.3 804.3M425.2 798.6L433.7 798.6L433.7 797.2L433.0 795.8L432.3 795.1L430.9 794.4L428.8 794.4L427.4 795.1L425.9 796.5L425.2 798.6L425.2 800.1L425.9 802.2L427.4 803.6L428.8 804.3L430.9 804.3L432.3 803.6L433.7 802.2M449.9 789.4L449.9 804.3M449.9 804.3L458.4 804.3M461.2 798.6L469.6 798.6L469.6 797.2L468.9 795.8L468.2 795.1L466.8 794.4L464.7 794.4L463.3 795.1L461.9 796.5L461.2 798.6L461.2 800.1L461.9 802.2L463.3 803.6L464.7 804.3L466.8 804.3L468.2 803.6L469.6 802.2M474.6 794.4L474.6 804.3M474.6 797.2L476.7 795.1L478.1 794.4L480.2 794.4L481.6 795.1L482.3 797.2L482.3 804.3M495.7 794.4L495.7 805.7L495.0 807.8L494.3 808.5L492.9 809.3L490.8 809.3L489.4 808.5M495.7 796.5L494.3 795.1L492.9 794.4L490.8 794.4L489.4 795.1L488.0 796.5L487.3 798.6L487.3 800.1L488.0 802.2L489.4 803.6L490.8 804.3L492.9 804.3L494.3 803.6L495.7 802.2M502.1 789.4L502.1 801.5L502.8 803.6L504.2 804.3L505.6 804.3M500.0 794.4L504.9 794.4M509.8 789.4L509.8 804.3M509.8 797.2L511.9 795.1L513.4 794.4L515.5 794.4L516.9 795.1L517.6 797.2L517.6 804.3M539.4 786.6L538.0 788.0L536.6 790.1L535.2 793.0L534.5 796.5L534.5 799.3L535.2 802.9L536.6 805.7L538.0 807.8L539.4 809.3M554.2 793.0L553.5 791.6L552.1 790.1L550.7 789.4L547.9 789.4L546.5 790.1L545.1 791.6L544.4 793.0L543.7 795.1L543.7 798.6L544.4 800.8L545.1 802.2L546.5 803.6L547.9 804.3L550.7 804.3L552.1 803.6L553.5 802.2L554.2 800.8L554.2 798.6M550.7 798.6L554.2 798.6M571.9 786.6L573.3 788.0L574.7 790.1L576.1 793.0L576.8 796.5L576.8 799.3L576.1 802.9L574.7 805.7L573.3 807.8L571.9 809.3"/><path d="M558.1 789.4L559.5 789.4L560.9 790.1L561.7 790.8L567.9 804.7M563.1 794.7L557.3 804.7" stroke-width="3.1"/></g>
<g transform="translate(72.1 393.3) rotate(-90)"><text x="0.0" y="0.0" font-size="21.2" text-anchor="middle" class="sr">Correlated Flux Density (Jy)</text><path d="M-143.6 -11.3L-144.3 -12.7L-145.7 -14.2L-147.1 -14.9L-150.0 -14.9L-151.4 -14.2L-152.8 -12.7L-153.5 -11.3L-154.2 -9.2L-154.2 -5.7L-153.5 -3.5L-152.8 -2.1L-151.4 -0.7L-150.0 0.0L-147.1 0.0L-145.7 -0.7L-144.3 -2.1L-143.6 -3.5M-135.8 -9.9L-137.2 -9.2L-138.6 -7.8L-139.3 -5.7L-139.3 -4.2L-138.6 -2.1L-137.2 -0.7L-135.8 0.0L-133.6 0.0L-132.2 -0.7L-130.8 -2.1L-130.1 -4.2L-130.1 -5.7L-130.8 -7.8L-132.2 -9.2L-133.6 -9.9L-135.8 -9.9M-125.1 -9.9L-125.1 0.0M-125.1 -5.7L-124.4 -7.8L-123.0 -9.2L-121.6 -9.9L-119.5 -9.9M-115.9 -9.9L-115.9 0.0M-115.9 -5.7L-115.2 -7.8L-113.8 -9.2L-112.4 -9.9L-110.2 -9.9M-107.4 -5.7L-98.9 -5.7L-98.9 -7.1L-99.6 -8.5L-100.3 -9.2L-101.7 -9.9L-103.9 -9.9L-105.3 -9.2L-106.7 -7.8L-107.4 -5.7L-107.4 -4.2L-106.7 -2.1L-105.3 -0.7L-103.9 0.0L-101.7 0.0L-100.3 -0.7L-98.9 -2.1M-93.9 -14.9L-93.9 0.0M-80.5 -9.9L-80.5 0.0M-80.5 -7.8L-81.9 -9.2L-83.3 -9.9L-85.4 -9.9L-86.9 -9.2L-88.3 -7.8L-89.0 -5.7L-89.0 -4.2L-88.3 -2.1L-86.9 -0.7L-85.4 0.0L-83.3 0.0L-81.9 -0.7L-80.5 -2.1M-74.1 -14.9L-74.1 -2.8L-73.4 -0.7L-72.0 0.0L-70.5 0.0M-76.2 -9.9L-71.3 -9.9M-67.0 -5.7L-58.5 -5.7L-58.5 -7.1L-59.2 -8.5L-59.9 -9.2L-61.3 -9.9L-63.5 -9.9L-64.9 -9.2L-66.3 -7.8L-67.0 -5.7L-67.0 -4.2L-66.3 -2.1L-64.9 -0.7L-63.5 0.0L-61.3 0.0L-59.9 -0.7L-58.5 -2.1M-45.7 -14.9L-45.7 0.0M-45.7 -7.8L-47.1 -9.2L-48.6 -9.9L-50.7 -9.9L-52.1 -9.2L-53.5 -7.8L-54.2 -5.7L-54.2 -4.2L-53.5 -2.1L-52.1 -0.7L-50.7 0.0L-48.6 0.0L-47.1 -0.7L-45.7 -2.1M-28.7 -14.9L-28.7 0.0M-28.7 -14.9L-19.5 -14.9M-28.7 -7.8L-23.0 -7.8M-16.0 -14.9L-16.0 0.0M-10.3 -9.9L-10.3 -2.8L-9.6 -0.7L-8.2 0.0L-6.0 0.0L-4.6 -0.7L-2.5 -2.8M-2.5 -9.9L-2.5 0.0M2.5 -9.9L10.3 0.0M10.3 -9.9L2.5 0.0M26.6 -14.9L26.6 0.0M26.6 -14.9L31.6 -14.9L33.7 -14.2L35.1 -12.7L35.8 -11.3L36.5 -9.2L36.5 -5.7L35.8 -3.5L35.1 -2.1L33.7 -0.7L31.6 0.0L26.6 0.0M40.8 -5.7L49.3 -5.7L49.3 -7.1L48.6 -8.5L47.9 -9.2L46.4 -9.9L44.3 -9.9L42.9 -9.2L41.5 -7.8L40.8 -5.7L40.8 -4.2L41.5 -2.1L42.9 -0.7L44.3 0.0L46.4 0.0L47.9 -0.7L49.3 -2.1M54.2 -9.9L54.2 0.0M54.2 -7.1L56.4 -9.2L57.8 -9.9L59.9 -9.9L61.3 -9.2L62.0 -7.1L62.0 0.0M74.8 -7.8L74.1 -9.2L72.0 -9.9L69.8 -9.9L67.7 -9.2L67.0 -7.8L67.7 -6.4L69.1 -5.7L72.7 -5.0L74.1 -4.2L74.8 -2.8L74.8 -2.1L74.1 -0.7L72.0 0.0L69.8 0.0L67.7 -0.7L67.0 -2.1M79.1 -14.9L79.8 -14.2L80.5 -14.9L79.8 -15.6L79.1 -14.9M79.8 -9.9L79.8 0.0M86.1 -14.9L86.1 -2.8L86.9 -0.7L88.3 0.0L89.7 0.0M84.0 -9.9L89.0 -9.9M92.5 -9.9L96.8 0.0M101.0 -9.9L96.8 0.0L95.4 2.8L93.9 4.2L92.5 5.0L91.8 5.0M121.6 -17.7L120.2 -16.3L118.8 -14.2L117.3 -11.3L116.6 -7.8L116.6 -5.0L117.3 -1.4L118.8 1.4L120.2 3.5L121.6 5.0M132.2 -14.9L132.2 -3.5L131.5 -1.4L130.8 -0.7L129.4 0.0L128.0 0.0L126.6 -0.7L125.8 -1.4L125.1 -3.5L125.1 -5.0M136.5 -9.9L140.7 0.0M145.0 -9.9L140.7 0.0L139.3 2.8L137.9 4.2L136.5 5.0L135.8 5.0M148.5 -17.7L150.0 -16.3L151.4 -14.2L152.8 -11.3L153.5 -7.8L153.5 -5.0L152.8 -1.4L151.4 1.4L150.0 3.5L148.5 5.0"/></g>
<g><text x="596.4" y="86.8" font-size="26.6" text-anchor="start" class="sr">smto&#8722;carma</text><path d="M608.8 77.0L607.9 75.3L605.3 74.4L602.6 74.4L599.9 75.3L599.1 77.0L599.9 78.8L601.7 79.7L606.2 80.6L607.9 81.5L608.8 83.3L608.8 84.1L607.9 85.9L605.3 86.8L602.6 86.8L599.9 85.9L599.1 84.1M615.0 74.4L615.0 86.8M615.0 77.9L617.7 75.3L619.5 74.4L622.1 74.4L623.9 75.3L624.8 77.9L624.8 86.8M624.8 77.9L627.4 75.3L629.2 74.4L631.9 74.4L633.7 75.3L634.5 77.9L634.5 86.8M642.5 68.2L642.5 83.3L643.4 85.9L645.2 86.8L647.0 86.8M639.9 74.4L646.1 74.4M655.8 74.4L654.1 75.3L652.3 77.0L651.4 79.7L651.4 81.5L652.3 84.1L654.1 85.9L655.8 86.8L658.5 86.8L660.3 85.9L662.0 84.1L662.9 81.5L662.9 79.7L662.0 77.0L660.3 75.3L658.5 74.4L655.8 74.4M669.1 78.8L685.1 78.8M702.0 77.0L700.2 75.3L698.4 74.4L695.7 74.4L694.0 75.3L692.2 77.0L691.3 79.7L691.3 81.5L692.2 84.1L694.0 85.9L695.7 86.8L698.4 86.8L700.2 85.9L702.0 84.1M717.9 74.4L717.9 86.8M717.9 77.0L716.1 75.3L714.4 74.4L711.7 74.4L709.9 75.3L708.2 77.0L707.3 79.7L707.3 81.5L708.2 84.1L709.9 85.9L711.7 86.8L714.4 86.8L716.1 85.9L717.9 84.1M725.0 74.4L725.0 86.8M725.0 79.7L725.9 77.0L727.7 75.3L729.4 74.4L732.1 74.4M736.5 74.4L736.5 86.8M736.5 77.9L739.2 75.3L741.0 74.4L743.6 74.4L745.4 75.3L746.3 77.9L746.3 86.8M746.3 77.9L749.0 75.3L750.7 74.4L753.4 74.4L755.2 75.3L756.1 77.9L756.1 86.8M772.9 74.4L772.9 86.8M772.9 77.0L771.1 75.3L769.4 74.4L766.7 74.4L764.9 75.3L763.2 77.0L762.3 79.7L762.3 81.5L763.2 84.1L764.9 85.9L766.7 86.8L769.4 86.8L771.1 85.9L772.9 84.1"/></g>
<g><text x="596.4" y="118.8" font-size="26.6" text-anchor="start" class="sr">lmt&#8722;smto</text><path d="M599.9 100.2L599.9 118.8M607.0 106.4L607.0 118.8M607.0 109.9L609.7 107.3L611.5 106.4L614.1 106.4L615.9 107.3L616.8 109.9L616.8 118.8M616.8 109.9L619.5 107.3L621.2 106.4L623.9 106.4L625.7 107.3L626.6 109.9L626.6 118.8M634.5 100.2L634.5 115.3L635.4 117.9L637.2 118.8L639.0 118.8M631.9 106.4L638.1 106.4M644.3 110.8L660.3 110.8M676.2 109.0L675.3 107.3L672.7 106.4L670.0 106.4L667.4 107.3L666.5 109.0L667.4 110.8L669.1 111.7L673.6 112.6L675.3 113.5L676.2 115.3L676.2 116.1L675.3 117.9L672.7 118.8L670.0 118.8L667.4 117.9L666.5 116.1M682.4 106.4L682.4 118.8M682.4 109.9L685.1 107.3L686.9 106.4L689.5 106.4L691.3 107.3L692.2 109.9L692.2 118.8M692.2 109.9L694.9 107.3L696.6 106.4L699.3 106.4L701.1 107.3L702.0 109.9L702.0 118.8M709.9 100.2L709.9 115.3L710.8 117.9L712.6 118.8L714.4 118.8M707.3 106.4L713.5 106.4M723.2 106.4L721.5 107.3L719.7 109.0L718.8 111.7L718.8 113.5L719.7 116.1L721.5 117.9L723.2 118.8L725.9 118.8L727.7 117.9L729.4 116.1L730.3 113.5L730.3 111.7L729.4 109.0L727.7 107.3L725.9 106.4L723.2 106.4"/></g>
<g><text x="596.4" y="150.8" font-size="26.6" text-anchor="start" class="sr">chile&#8722;lmt</text><path d="M609.7 141.0L607.9 139.3L606.2 138.4L603.5 138.4L601.7 139.3L599.9 141.0L599.1 143.7L599.1 145.5L599.9 148.1L601.7 149.9L603.5 150.8L606.2 150.8L607.9 149.9L609.7 148.1M615.9 132.2L615.9 150.8M615.9 141.9L618.6 139.3L620.3 138.4L623.0 138.4L624.8 139.3L625.7 141.9L625.7 150.8M631.9 132.2L632.8 133.1L633.7 132.2L632.8 131.3L631.9 132.2M632.8 138.4L632.8 150.8M639.9 132.2L639.9 150.8M646.1 143.7L656.7 143.7L656.7 141.9L655.8 140.2L654.9 139.3L653.2 138.4L650.5 138.4L648.7 139.3L647.0 141.0L646.1 143.7L646.1 145.5L647.0 148.1L648.7 149.9L650.5 150.8L653.2 150.8L654.9 149.9L656.7 148.1M662.9 142.8L678.9 142.8M686.0 132.2L686.0 150.8M693.1 138.4L693.1 150.8M693.1 141.9L695.7 139.3L697.5 138.4L700.2 138.4L702.0 139.3L702.8 141.9L702.8 150.8M702.8 141.9L705.5 139.3L707.3 138.4L709.9 138.4L711.7 139.3L712.6 141.9L712.6 150.8M720.6 132.2L720.6 147.3L721.5 149.9L723.2 150.8L725.0 150.8M717.9 138.4L724.1 138.4"/></g>
<g><text x="596.4" y="182.8" font-size="26.6" text-anchor="start" class="sr">lmt&#8722;carma</text><path d="M599.9 164.2L599.9 182.8M607.0 170.4L607.0 182.8M607.0 173.9L609.7 171.3L611.5 170.4L614.1 170.4L615.9 171.3L616.8 173.9L616.8 182.8M616.8 173.9L619.5 171.3L621.2 170.4L623.9 170.4L625.7 171.3L626.6 173.9L626.6 182.8M634.5 164.2L634.5 179.3L635.4 181.9L637.2 182.8L639.0 182.8M631.9 170.4L638.1 170.4M644.3 174.8L660.3 174.8M677.1 173.0L675.3 171.3L673.6 170.4L670.9 170.4L669.1 171.3L667.4 173.0L666.5 175.7L666.5 177.5L667.4 180.1L669.1 181.9L670.9 182.8L673.6 182.8L675.3 181.9L677.1 180.1M693.1 170.4L693.1 182.8M693.1 173.0L691.3 171.3L689.5 170.4L686.9 170.4L685.1 171.3L683.3 173.0L682.4 175.7L682.4 177.5L683.3 180.1L685.1 181.9L686.9 182.8L689.5 182.8L691.3 181.9L693.1 180.1M700.2 170.4L700.2 182.8M700.2 175.7L701.1 173.0L702.8 171.3L704.6 170.4L707.3 170.4M711.7 170.4L711.7 182.8M711.7 173.9L714.4 171.3L716.1 170.4L718.8 170.4L720.6 171.3L721.5 173.9L721.5 182.8M721.5 173.9L724.1 171.3L725.9 170.4L728.6 170.4L730.3 171.3L731.2 173.9L731.2 182.8M748.1 170.4L748.1 182.8M748.1 173.0L746.3 171.3L744.5 170.4L741.9 170.4L740.1 171.3L738.3 173.0L737.4 175.7L737.4 177.5L738.3 180.1L740.1 181.9L741.9 182.8L744.5 182.8L746.3 181.9L748.1 180.1"/></g>
<g><text x="596.4" y="214.8" font-size="26.6" text-anchor="start" class="sr">chile&#8722;smto</text><path d="M609.7 205.0L607.9 203.3L606.2 202.4L603.5 202.4L601.7 203.3L599.9 205.0L599.1 207.7L599.1 209.5L599.9 212.1L601.7 213.9L603.5 214.8L606.2 214.8L607.9 213.9L609.7 212.1M615.9 196.2L615.9 214.8M615.9 205.9L618.6 203.3L620.3 202.4L623.0 202.4L624.8 203.3L625.7 205.9L625.7 214.8M631.9 196.2L632.8 197.1L633.7 196.2L632.8 195.3L631.9 196.2M632.8 202.4L632.8 214.8M639.9 196.2L639.9 214.8M646.1 207.7L656.7 207.7L656.7 205.9L655.8 204.2L654.9 203.3L653.2 202.4L650.5 202.4L648.7 203.3L647.0 205.0L646.1 207.7L646.1 209.5L647.0 212.1L648.7 213.9L650.5 214.8L653.2 214.8L654.9 213.9L656.7 212.1M662.9 206.8L678.9 206.8M694.9 205.0L694.0 203.3L691.3 202.4L688.6 202.4L686.0 203.3L685.1 205.0L686.0 206.8L687.8 207.7L692.2 208.6L694.0 209.5L694.9 211.3L694.9 212.1L694.0 213.9L691.3 214.8L688.6 214.8L686.0 213.9L685.1 212.1M701.1 202.4L701.1 214.8M701.1 205.9L703.7 203.3L705.5 202.4L708.2 202.4L709.9 203.3L710.8 205.9L710.8 214.8M710.8 205.9L713.5 203.3L715.3 202.4L717.9 202.4L719.7 203.3L720.6 205.9L720.6 214.8M728.6 196.2L728.6 211.3L729.4 213.9L731.2 214.8L733.0 214.8M725.9 202.4L732.1 202.4M741.9 202.4L740.1 203.3L738.3 205.0L737.4 207.7L737.4 209.5L738.3 212.1L740.1 213.9L741.9 214.8L744.5 214.8L746.3 213.9L748.1 212.1L749.0 209.5L749.0 207.7L748.1 205.0L746.3 203.3L744.5 202.4L741.9 202.4"/></g>
<g><text x="596.4" y="246.8" font-size="26.6" text-anchor="start" class="sr">chile&#8722;carma</text><path d="M609.7 237.0L607.9 235.3L606.2 234.4L603.5 234.4L601.7 235.3L599.9 237.0L599.1 239.7L599.1 241.5L599.9 244.1L601.7 245.9L603.5 246.8L606.2 246.8L607.9 245.9L609.7 244.1M615.9 228.2L615.9 246.8M615.9 237.9L618.6 235.3L620.3 234.4L623.0 234.4L624.8 235.3L625.7 237.9L625.7 246.8M631.9 228.2L632.8 229.1L633.7 228.2L632.8 227.3L631.9 228.2M632.8 234.4L632.8 246.8M639.9 228.2L639.9 246.8M646.1 239.7L656.7 239.7L656.7 237.9L655.8 236.2L654.9 235.3L653.2 234.4L650.5 234.4L648.7 235.3L647.0 237.0L646.1 239.7L646.1 241.5L647.0 244.1L648.7 245.9L650.5 246.8L653.2 246.8L654.9 245.9L656.7 244.1M662.9 238.8L678.9 238.8M695.7 237.0L694.0 235.3L692.2 234.4L689.5 234.4L687.8 235.3L686.0 237.0L685.1 239.7L685.1 241.5L686.0 244.1L687.8 245.9L689.5 246.8L692.2 246.8L694.0 245.9L695.7 244.1M711.7 234.4L711.7 246.8M711.7 237.0L709.9 235.3L708.2 234.4L705.5 234.4L703.7 235.3L702.0 237.0L701.1 239.7L701.1 241.5L702.0 244.1L703.7 245.9L705.5 246.8L708.2 246.8L709.9 245.9L711.7 244.1M718.8 234.4L718.8 246.8M718.8 239.7L719.7 237.0L721.5 235.3L723.2 234.4L725.9 234.4M730.3 234.4L730.3 246.8M730.3 237.9L733.0 235.3L734.8 234.4L737.4 234.4L739.2 235.3L740.1 237.9L740.1 246.8M740.1 237.9L742.8 235.3L744.5 234.4L747.2 234.4L749.0 235.3L749.9 237.9L749.9 246.8M766.7 234.4L766.7 246.8M766.7 237.0L764.9 235.3L763.2 234.4L760.5 234.4L758.7 235.3L756.9 237.0L756.1 239.7L756.1 241.5L756.9 244.1L758.7 245.9L760.5 246.8L763.2 246.8L764.9 245.9L766.7 244.1"/></g>
<g><text x="704.9" y="295.2" font-size="26.6" text-anchor="start" class="sr">50h</text><path d="M718.2 276.6L709.3 276.6L708.4 284.6L709.3 283.7L712.0 282.8L714.7 282.8L717.3 283.7L719.1 285.4L720.0 288.1L720.0 289.9L719.1 292.5L717.3 294.3L714.7 295.2L712.0 295.2L709.3 294.3L708.4 293.4L707.6 291.7M730.6 276.6L728.0 277.5L726.2 280.1L725.3 284.6L725.3 287.2L726.2 291.7L728.0 294.3L730.6 295.2L732.4 295.2L735.1 294.3L736.8 291.7L737.7 287.2L737.7 284.6L736.8 280.1L735.1 277.5L732.4 276.6L730.6 276.6M743.9 276.6L743.9 295.2M743.9 286.3L746.6 283.7L748.4 282.8L751.0 282.8L752.8 283.7L753.7 286.3L753.7 295.2"/></g>
<g><text x="704.9" y="327.0" font-size="26.6" text-anchor="start" class="sr">90h</text><path d="M719.1 314.6L718.2 317.2L716.4 319.0L713.8 319.9L712.9 319.9L710.2 319.0L708.4 317.2L707.6 314.6L707.6 313.7L708.4 311.0L710.2 309.3L712.9 308.4L713.8 308.4L716.4 309.3L718.2 311.0L719.1 314.6L719.1 319.0L718.2 323.5L716.4 326.1L713.8 327.0L712.0 327.0L709.3 326.1L708.4 324.3M730.6 308.4L728.0 309.3L726.2 311.9L725.3 316.4L725.3 319.0L726.2 323.5L728.0 326.1L730.6 327.0L732.4 327.0L735.1 326.1L736.8 323.5L737.7 319.0L737.7 316.4L736.8 311.9L735.1 309.3L732.4 308.4L730.6 308.4M743.9 308.4L743.9 327.0M743.9 318.1L746.6 315.5L748.4 314.6L751.0 314.6L752.8 315.5L753.7 318.1L753.7 327.0"/></g>
<g><text x="704.9" y="358.8" font-size="26.6" text-anchor="start" class="sr">MBD</text><path d="M708.4 340.2L708.4 358.8M708.4 340.2L715.5 358.8M722.6 340.2L715.5 358.8M722.6 340.2L722.6 358.8M729.7 340.2L729.7 358.8M729.7 340.2L737.7 340.2L740.4 341.1L741.3 341.9L742.2 343.7L742.2 345.5L741.3 347.3L740.4 348.2L737.7 349.0M729.7 349.0L737.7 349.0L740.4 349.9L741.3 350.8L742.2 352.6L742.2 355.3L741.3 357.0L740.4 357.9L737.7 358.8L729.7 358.8M748.4 340.2L748.4 358.8M748.4 340.2L754.6 340.2L757.2 341.1L759.0 342.8L759.9 344.6L760.8 347.3L760.8 351.7L759.9 354.4L759.0 356.1L757.2 357.9L754.6 358.8L748.4 358.8"/></g>
<g><text x="704.9" y="390.6" font-size="26.6" text-anchor="start" class="sr">MBQ</text><path d="M708.4 372.0L708.4 390.6M708.4 372.0L715.5 390.6M722.6 372.0L715.5 390.6M722.6 372.0L722.6 390.6M729.7 372.0L729.7 390.6M729.7 372.0L737.7 372.0L740.4 372.9L741.3 373.7L742.2 375.5L742.2 377.3L741.3 379.1L740.4 380.0L737.7 380.8M729.7 380.8L737.7 380.8L740.4 381.7L741.3 382.6L742.2 384.4L742.2 387.1L741.3 388.8L740.4 389.7L737.7 390.6L729.7 390.6M752.8 372.0L751.0 372.9L749.2 374.6L748.4 376.4L747.5 379.1L747.5 383.5L748.4 386.2L749.2 387.9L751.0 389.7L752.8 390.6L756.3 390.6L758.1 389.7L759.9 387.9L760.8 386.2L761.7 383.5L761.7 379.1L760.8 376.4L759.9 374.6L758.1 372.9L756.3 372.0L752.8 372.0M755.5 387.1L760.8 392.4"/></g>
</g>
</svg></body></html>
